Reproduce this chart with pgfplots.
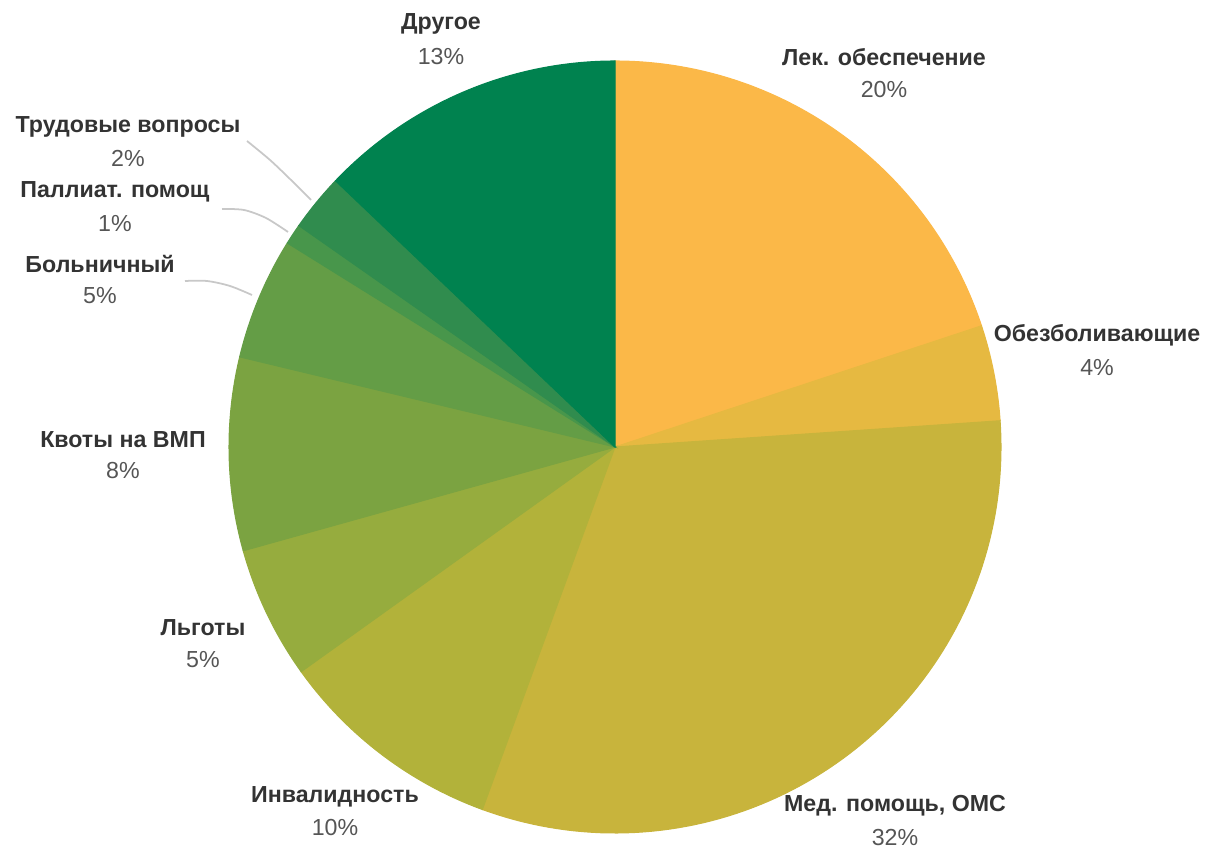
\documentclass[border=0pt]{standalone}
\usepackage{pgfplots}
\pgfplotsset{compat=1.18}
\usepackage{fontspec}
\setmainfont{Liberation Sans}
\definecolor{c1}{HTML}{FBB848}
\definecolor{c2}{HTML}{E6B941}
\definecolor{c3}{HTML}{C8B43C}
\definecolor{c4}{HTML}{B2B23A}
\definecolor{c5}{HTML}{96AC3E}
\definecolor{c6}{HTML}{7BA341}
\definecolor{c7}{HTML}{649D46}
\definecolor{c8}{HTML}{48964B}
\definecolor{c9}{HTML}{308C4E}
\definecolor{c10}{HTML}{00824F}
\definecolor{nametxt}{HTML}{333333}
\definecolor{pcttxt}{HTML}{555555}
\definecolor{leader}{HTML}{C8C8C8}
% slice: start angle, end angle (degrees clockwise from 12 o'clock), colour
\newcommand\slice[3]{\addplot[fill=#3, draw=#3, line width=0.3pt, domain=#1:#2, samples=90, variable=\t] ({615+386*sin(\t)}, {-447+386*cos(\t)}) -- (axis cs:615,-447) -- cycle;}
\tikzset{nm/.style={text=nametxt, font=\fontsize{6.6}{7.5}\selectfont\bfseries},
         pc/.style={text=pcttxt, font=\fontsize{6.6}{7.5}\selectfont}}
\begin{document}
\begin{tikzpicture}
\path[use as bounding box] (0,0) rectangle (12.05cm,8.46cm);
\begin{axis}[at={(0,0)}, anchor=south west, width=12.05cm, height=8.46cm,
  scale only axis, xmin=0, xmax=1205, ymin=-846, ymax=0,
  axis lines=none, clip=false]
% Shares (percent): 19.9, 4.0, 31.7, 9.5, 5.6, 8.1, 5.1, 0.9, 2.4, 12.9
\slice{0}{71.7}{c1}
\slice{71.7}{86.1}{c2}
\slice{86.1}{200.1}{c3}
\slice{200.1}{234.4}{c4}
\slice{234.4}{254.4}{c5}
\slice{254.4}{283.5}{c6}
\slice{283.5}{301.9}{c7}
\slice{301.9}{305.0}{c8}
\slice{305.0}{313.6}{c9}
\slice{313.6}{360}{c10}
% leader lines
\addplot[smooth, leader, line width=0.5pt] coordinates {(247,-141) (270,-160) (291,-180) (311,-200)};
\addplot[smooth, leader, line width=0.5pt] coordinates {(222,-209) (244,-210) (266,-218) (288,-232)};
\addplot[smooth, leader, line width=0.5pt] coordinates {(185,-281) (207,-281) (230,-286) (252,-295)};
% labels
\node[nm] at (axis cs:441,-24) {Другое};
\node[pc] at (axis cs:441,-57) {13\%};
\node[nm] at (axis cs:884,-57) {Лек. обеспечение};
\node[pc] at (axis cs:884,-90) {20\%};
\node[nm] at (axis cs:1097,-335) {Обезболивающие};
\node[pc] at (axis cs:1097,-368) {4\%};
\node[nm] at (axis cs:895,-806) {Мед. помощь, ОМС};
\node[pc] at (axis cs:895,-838) {32\%};
\node[nm] at (axis cs:335,-797) {Инвалидность};
\node[pc] at (axis cs:335,-828) {10\%};
\node[nm] at (axis cs:203,-628) {Льготы};
\node[pc] at (axis cs:203,-660) {5\%};
\node[nm] at (axis cs:123,-440) {Квоты на ВМП};
\node[pc] at (axis cs:123,-471) {8\%};
\node[nm] at (axis cs:100,-264) {Больничный};
\node[pc] at (axis cs:100,-296) {5\%};
\node[nm] at (axis cs:115,-192) {Паллиат. помощ};
\node[pc] at (axis cs:115,-224) {1\%};
\node[nm] at (axis cs:128,-127) {Трудовые вопросы};
\node[pc] at (axis cs:128,-158) {2\%};
\end{axis}
\end{tikzpicture}
\end{document}
